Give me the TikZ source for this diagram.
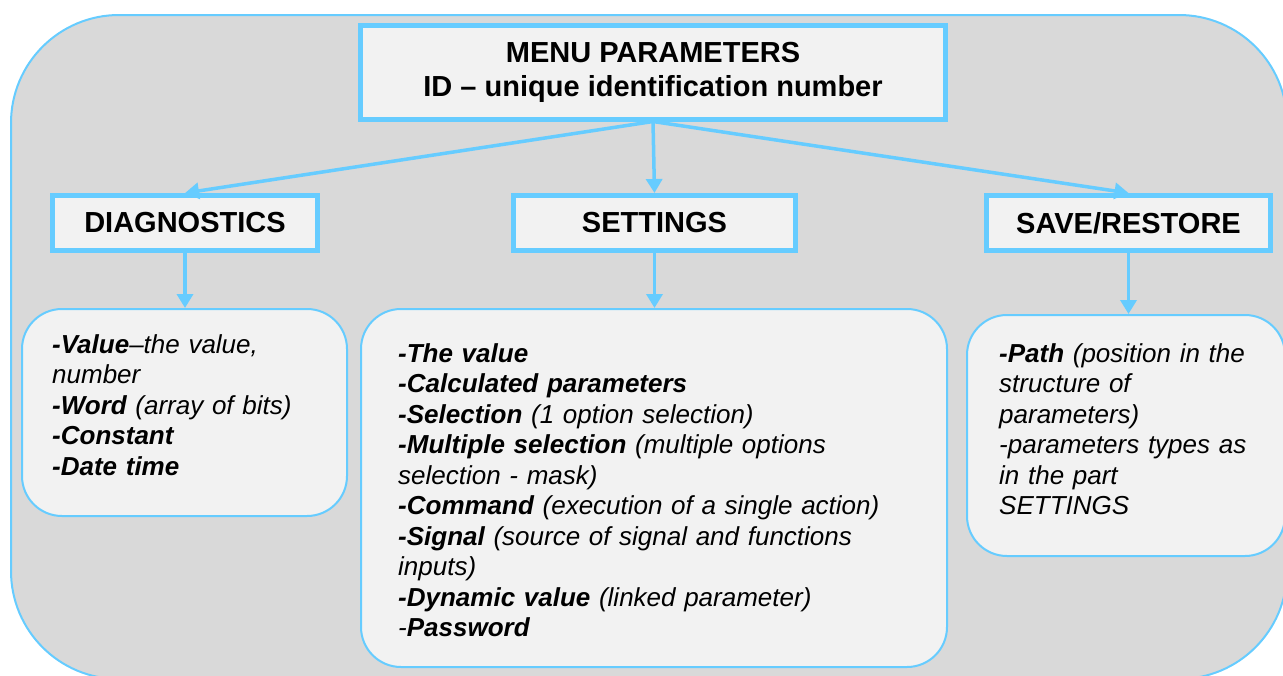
\documentclass[tikz,border=0pt]{standalone}
\usepackage{fontspec}
\setmainfont{Liberation Sans}
\usetikzlibrary{arrows.meta}
\definecolor{bb}{RGB}{102, 204, 255}
\definecolor{gg}{RGB}{217, 217, 217}
\definecolor{ff}{RGB}{242, 242, 242}
\def\headfont{\fontsize{29}{34}\selectfont\bfseries}
\def\itemfont{\fontsize{26}{30.5}\selectfont\itshape}
\newcommand{\headnode}[5]{\node[draw=bb,line width=5pt,fill=ff,minimum width=#4,minimum height=55pt,inner sep=0pt,font=\headfont] (#3) at (#1,#2) {#5};}
\newcommand{\listnode}[8]{\node[draw=bb,line width=2pt,fill=ff,rounded corners=40pt,minimum width=#4,minimum height=#5] (#3) at (#1,#2) {};
	\node[anchor=base west,inner sep=0pt,text width=560pt,align=left,font=\itemfont] (#3text) at (#6,#7) {#8}; }

\begin{document}
\begin{tikzpicture}[x=1pt,y=-1pt]
\useasboundingbox (0,0) rectangle (1283,675);
\draw[draw=bb,line width=2pt,fill=gg,rounded corners=108pt] (11,15) rectangle (1287,679);

\node[draw=bb,line width=5pt,fill=ff,minimum width=585pt,minimum height=94pt,align=center,font=\headfont] (menu) at (653,72) {MENU PARAMETERS\\ID – unique identification number};

\headnode{185}{223}{diag}{265pt}{DIAGNOSTICS}
\headnode{654.5}{223}{set}{282pt}{SETTINGS}
\headnode{1128.5}{223}{save}{284pt}{SAVE/RESTORE}

\listnode{184.5}{412.5}{diagbox}{325pt}{207pt}{52}{353}{\textbf{-Value}–the value,\\number\\\textbf{-Word} (array of bits)\\\textbf{-Constant}\\\textbf{-Date time}}
\listnode{654}{488}{setbox}{586pt}{358pt}{398}{362}{\textbf{-The value}\\\textbf{-Calculated parameters}\\\textbf{-Selection} (1 option selection)\\\textbf{-Multiple selection} (multiple options\\selection - mask)\\\textbf{-Command} (execution of a single action)\\\textbf{-Signal} (source of signal and functions\\inputs)\\\textbf{-Dynamic value} (linked parameter)\\-\textbf{Password}}
\listnode{1126}{435.5}{savebox}{318pt}{241pt}{999}{362}{\textbf{-Path} (position in the\\structure of\\parameters)\\-parameters types as\\in the part\\SETTINGS}

\draw[-{Triangle[width=16pt,length=14pt]},line width=3.5pt,color=bb] (menu.south) -- (diag.north);
\draw[-{Triangle[width=16pt,length=14pt]},line width=3.5pt,color=bb] (menu.south) -- (set.north);
\draw[-{Triangle[width=16pt,length=14pt]},line width=3.5pt,color=bb] (menu.south) -- (save.north);
\draw[-{Triangle[width=16pt,length=14pt]},line width=3.5pt,color=bb] (diag.south) -- (diag.south |- diagbox.north);
\draw[-{Triangle[width=16pt,length=14pt]},line width=3.5pt,color=bb] (set.south) -- (set.south |- setbox.north);
\draw[-{Triangle[width=16pt,length=14pt]},line width=3.5pt,color=bb] (save.south) -- (save.south |- savebox.north);
\end{tikzpicture}
\end{document}
